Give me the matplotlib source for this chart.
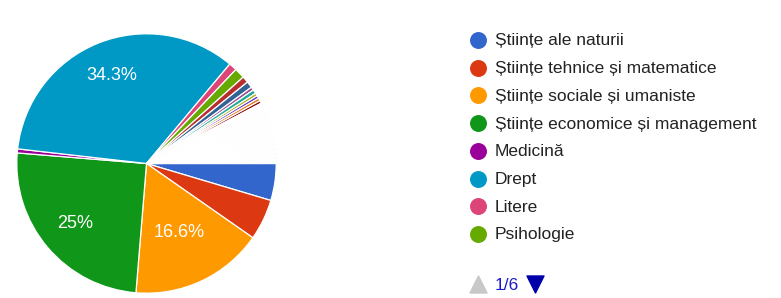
import numpy as np
import matplotlib.pyplot as plt

plt.rcParams['font.family'] = ['Liberation Sans', 'DejaVu Sans']

# categorii din legenda (pagina 1/6)
categorii = ['Științe ale naturii', 'Științe tehnice și matematice',
             'Științe sociale și umaniste', 'Științe economice și management',
             'Medicină', 'Drept', 'Litere', 'Psihologie']
procente = [4.6, 5.1, 16.6, 25.0, 0.5, 34.3, 1.0, 1.3]

# restul categoriilor (paginile 2-6), felii mici
procente_alte = [0.8, 0.8, 0.4, 0.5, 0.35, 0.35, 0.35, 0.35]
# zeci de raspunsuri unice, fiecare cam 0.1%
procente_unice = [0.1] * 77

culori = ['#3366cc', '#dc3912', '#ff9900', '#109618', '#990099', '#0099c6',
          '#dd4477', '#66aa00', '#b82e2e', '#316395', '#994499', '#22aa99',
          '#aaaa11', '#6633cc', '#e67300', '#8b0707', '#651067', '#329262',
          '#5574a6', '#3b3eac']

valori = procente + procente_alte + procente_unice
culori_felii = [culori[i % len(culori)] for i in range(len(valori))]

W, H = 781, 298
fig = plt.figure(figsize=(W / 100, H / 100), dpi=100)

# pie
cx, cy, r = 146.5, 163.5, 131
ax = fig.add_axes([(cx - r) / W, (H - cy - r) / H, 2 * r / W, 2 * r / H])
ax.pie(valori, colors=culori_felii, startangle=0, counterclock=False,
       radius=1, wedgeprops=dict(edgecolor='white', linewidth=0.9))
ax.set_xlim(-1.01, 1.01)
ax.set_ylim(-1.01, 1.01)
ax.set_aspect('equal')
ax.axis('off')

# etichete procente pe feliile mari
dist = {16.6: 0.59, 25.0: 0.72, 34.3: 0.73}
unghi = 0.0
for v in valori:
    mijloc = unghi - v / 100 * 360 / 2
    unghi -= v / 100 * 360
    if v >= 10:
        t = np.deg2rad(mijloc)
        d = dist.get(v, 0.7)
        ax.text(d * np.cos(t), d * np.sin(t), f'{v:g}%', color='white',
                fontsize=13, ha='center', va='center')

# legenda
lg = fig.add_axes([0, 0, 1, 1])
lg.set_xlim(0, W)
lg.set_ylim(H, 0)
lg.axis('off')
y0, pas = 40, 27.7
for i, nume in enumerate(categorii):
    y = y0 + i * pas
    lg.scatter(478, y, s=125, color=culori[i], zorder=3)
    lg.text(495, y + 1, nume, fontsize=12.5, color='#222222', va='center', ha='left')

# paginare
lg.scatter(478, 284, marker='^', s=150, color='#c8c8c8')
lg.text(495, 285, '1/6', fontsize=12.5, color='#1a1acc', va='center', ha='left')
lg.scatter(535, 284, marker='v', s=150, color='#0000aa')

fig.savefig('out.png', dpi=100, facecolor='white')
